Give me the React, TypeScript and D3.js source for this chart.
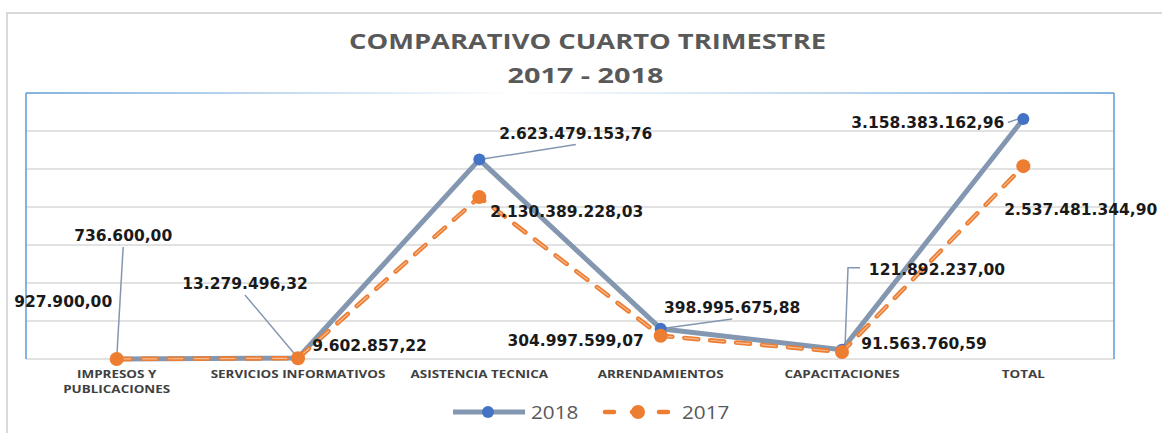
import React from "react";
import * as d3 from "d3";

const categories = [
  ["IMPRESOS Y", "PUBLICACIONES"],
  ["SERVICIOS INFORMATIVOS"],
  ["ASISTENCIA TECNICA"],
  ["ARRENDAMIENTOS"],
  ["CAPACITACIONES"],
  ["TOTAL"],
];
const values2018 = [736600.0, 13279496.32, 2623479153.76, 398995675.88, 121892237.0, 3158383162.96];
const values2017 = [927900.0, 9602857.22, 2130389228.03, 304997599.07, 91563760.59, 2537481344.9];
const gridValues = [0, 0.5e9, 1e9, 1.5e9, 2e9, 2.5e9, 3e9];

// label layout: offset of label center from point, leader type
const layout2018 = [
  { dx: 6.5, dy: -124, leader: "bottom" },
  { dx: -53, dy: -75, leader: "bottom" },
  { dx: 96.5, dy: -27, leader: "bottom" },
  { dx: 71.5, dy: -21.6, leader: "bottom" },
  { dx: 95, dy: -81, leader: "elbow" },
  { dx: -95.5, dy: 3.5, leader: "right" },
];
const layout2017 = [
  { dx: -53.5, dy: -58 },
  { dx: 71.5, dy: -13 },
  { dx: 87.5, dy: 13.5 },
  { dx: -85, dy: 4.5 },
  { dx: 82, dy: -9 },
  { dx: 57.5, dy: 42.5 },
];

const W = 1162;
const H = 433;
const plot = { left: 26, right: 1114, top: 93, bottom: 359 };

const fmt = d3
  .formatLocale({ decimal: ",", thousands: ".", grouping: [3], currency: ["", ""] })
  .format(",.2f");

const BLUE_LINE = "#8497B0";
const BLUE_MARK = "#4472C4";
const ORANGE = "#ED7D31";
const ORANGE_LIGHT = "#F8CBAD";
const LABEL_FONT = "'DejaVu Sans', Verdana, sans-serif";
const CAL_FONT = "'Open Sans', sans-serif";

export default function App() {
  const x = d3
    .scaleBand<number>()
    .domain(d3.range(categories.length))
    .range([plot.left, plot.right])
    .padding(0);
  const cx = (i: number) => (x(i) as number) + x.bandwidth() / 2;
  const y = d3.scaleLinear().domain([0, 3.5e9]).range([plot.bottom, plot.top]);

  const line = d3
    .line<number>()
    .x((_, i) => cx(i))
    .y((v) => y(v));

  const dash = "14 12";

  return (
    <svg
      width={W}
      height={H}
      style={{ position: "absolute", left: 0, top: 0, background: "#fff" }}
    >
      <defs>
        <linearGradient id="topGrad" x1="0" x2="1" y1="0" y2="0">
          <stop offset="0" stopColor="#5B9BD5" />
          <stop offset="0.45" stopColor="#ffffff" />
          <stop offset="1" stopColor="#5B9BD5" />
        </linearGradient>
      </defs>
      <rect x={7} y={13} width={1170} height={430} fill="#fff" stroke="#D9D9D9" strokeWidth={2} />

      {/* title */}
      <text
        x={587.5}
        y={49}
        textAnchor="middle"
        fontFamily={CAL_FONT}
        fontWeight={700}
        fontSize={22}
        fill="#595959"
        textLength={477}
        lengthAdjust="spacingAndGlyphs"
      >
        COMPARATIVO CUARTO TRIMESTRE
      </text>
      <text
        x={585.5}
        y={83}
        textAnchor="middle"
        fontFamily={CAL_FONT}
        fontWeight={700}
        fontSize={22}
        fill="#595959"
        textLength={156}
        lengthAdjust="spacingAndGlyphs"
      >
        2017 - 2018
      </text>

      {/* gridlines */}
      {gridValues.map((g) => (
        <line
          key={g}
          x1={plot.left}
          x2={plot.right}
          y1={y(g)}
          y2={y(g)}
          stroke="#D9D9D9"
          strokeWidth={1.5}
        />
      ))}
      {/* plot border */}
      <line x1={plot.left} x2={plot.left} y1={plot.top} y2={plot.bottom} stroke="#5B9BD5" strokeWidth={1.5} />
      <line x1={plot.right} x2={plot.right} y1={plot.top} y2={plot.bottom} stroke="#5B9BD5" strokeWidth={1.5} />
      <rect x={plot.left} y={plot.top - 0.75} width={plot.right - plot.left} height={1.5} fill="url(#topGrad)" />

      {/* category labels */}
      {categories.map((lines, i) => (
        <g key={i} transform={`translate(${cx(i)},0) scale(1.2,1)`}>
          {lines.map((t, j) => (
            <text
              key={j}
              x={0}
              y={378 + j * 15}
              textAnchor="middle"
              fontFamily={CAL_FONT}
              fontWeight={700}
              fontSize={11.2}
              fill="#404040"
            >
              {t}
            </text>
          ))}
        </g>
      ))}

      {/* leaders 2018 */}
      {values2018.map((v, i) => {
        const px = cx(i);
        const py = y(v);
        const L = layout2018[i];
        const lx = px + L.dx;
        const ly = py + L.dy;
        let d = "";
        if (L.leader === "bottom") d = `M${lx},${ly + 12}L${px},${py}`;
        else if (L.leader === "elbow") d = `M${lx - 77},${ly - 1}L${px + 6},${ly - 1}L${px + 3},${py - 2}`;
        else d = `M${lx + 80},${ly}L${px - 5},${py}`;
        return <path key={i} d={d} fill="none" stroke={BLUE_LINE} strokeWidth={1.5} />;
      })}

      {/* series 2018 */}
      <path d={line(values2018) as string} fill="none" stroke={BLUE_LINE} strokeWidth={5} strokeLinejoin="round" />
      {values2018.map((v, i) => (
        <circle key={i} cx={cx(i)} cy={y(v)} r={6} fill={BLUE_MARK} />
      ))}

      {/* series 2017 */}
      <path
        d={line(values2017) as string}
        fill="none"
        stroke={ORANGE}
        strokeWidth={4.5}
        strokeDasharray={dash}
        strokeLinecap="round"
        strokeLinejoin="round"
      />
      <path
        d={line(values2017) as string}
        fill="none"
        stroke={ORANGE_LIGHT}
        strokeWidth={1.2}
        strokeDasharray={dash}
        strokeLinecap="round"
        opacity={0.8}
      />
      {values2017.map((v, i) => (
        <circle key={i} cx={cx(i)} cy={y(v)} r={7} fill={ORANGE} />
      ))}

      {/* data labels */}
      {values2018.map((v, i) => (
        <text
          key={"a" + i}
          x={cx(i) + layout2018[i].dx}
          y={y(v) + layout2018[i].dy + 6}
          textAnchor="middle"
          fontFamily={LABEL_FONT}
          fontWeight={700}
          fontSize={15.5}
          fill="#1a1a1a"
        >
          {fmt(v)}
        </text>
      ))}
      {values2017.map((v, i) => (
        <text
          key={"b" + i}
          x={cx(i) + layout2017[i].dx}
          y={y(v) + layout2017[i].dy + 6}
          textAnchor="middle"
          fontFamily={LABEL_FONT}
          fontWeight={700}
          fontSize={15.5}
          fill="#1a1a1a"
        >
          {fmt(v)}
        </text>
      ))}

      {/* legend */}
      <line x1={453} x2={525} y1={412} y2={412} stroke={BLUE_LINE} strokeWidth={5} />
      <circle cx={488} cy={412} r={6} fill={BLUE_MARK} />
      <g transform="translate(531,419) scale(1.15,1)">
        <text x={0} y={0} fontFamily={CAL_FONT} fontSize={18} fill="#595959">
          2018
        </text>
      </g>
      <line
        x1={605}
        x2={671}
        y1={412}
        y2={412}
        stroke={ORANGE}
        strokeWidth={4.5}
        strokeDasharray="9 18"
        strokeLinecap="round"
      />
      <circle cx={638} cy={412} r={7} fill={ORANGE} />
      <g transform="translate(682,419) scale(1.15,1)">
        <text x={0} y={0} fontFamily={CAL_FONT} fontSize={18} fill="#595959">
          2017
        </text>
      </g>
    </svg>
  );
}
